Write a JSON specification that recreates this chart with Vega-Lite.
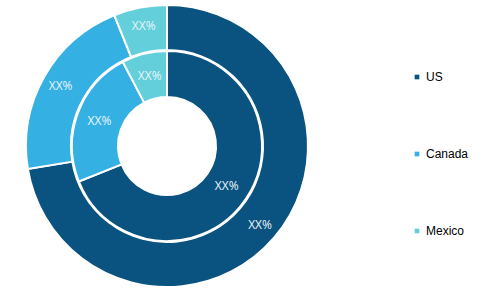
{
  "$schema": "https://vega.github.io/schema/vega-lite/v6.json",
  "width": 334,
  "height": 292,
  "autosize": {"type": "none"},
  "padding": {"left": 0, "top": 0, "right": 160, "bottom": 5},
  "background": "white",
  "config": {"view": {"stroke": null}},
  "data": {
    "values": [
      {"ring": "outer", "country": "US", "rank": 1, "share": 72.4, "label": "XX%"},
      {"ring": "outer", "country": "Canada", "rank": 2, "share": 21.5, "label": "XX%"},
      {"ring": "outer", "country": "Mexico", "rank": 3, "share": 6.1, "label": "XX%"},
      {"ring": "inner", "country": "US", "rank": 1, "share": 68.9, "label": "XX%"},
      {"ring": "inner", "country": "Canada", "rank": 2, "share": 23.4, "label": "XX%"},
      {"ring": "inner", "country": "Mexico", "rank": 3, "share": 7.7, "label": "XX%"}
    ]
  },
  "encoding": {
    "theta": {"field": "share", "type": "quantitative", "stack": true, "scale": {"domain": [0, 100]}},
    "order": {"field": "rank", "type": "quantitative"},
    "color": {
      "field": "country",
      "type": "nominal",
      "scale": {"domain": ["US", "Canada", "Mexico"], "range": ["#0a5380", "#35b0e2", "#62cfda"]},
      "legend": {
        "title": null,
        "orient": "none",
        "legendX": 411,
        "legendY": 71,
        "symbolType": "square",
        "symbolSize": 22,
        "symbolStrokeWidth": 0,
        "labelFont": "Liberation Sans",
        "labelFontSize": 12,
        "labelColor": "#000000",
        "labelOffset": 3,
        "rowPadding": 65
      }
    }
  },
  "layer": [
    {
      "transform": [{"filter": "datum.ring === 'outer'"}],
      "layer": [
        {"mark": {"type": "arc", "radius": 141, "radius2": 96, "stroke": "white", "strokeWidth": 2}},
        {"mark": {"type": "text", "radius": 122, "font": "Open Sans", "fontSize": 12}, "encoding": {"text": {"field": "label"}, "color": {"value": "#eaf4fa"}}}
      ]
    },
    {
      "transform": [{"filter": "datum.ring === 'inner'"}],
      "layer": [
        {"mark": {"type": "arc", "radius": 95, "radius2": 49, "stroke": "white", "strokeWidth": 2}},
        {"mark": {"type": "text", "radius": 72, "font": "Open Sans", "fontSize": 12}, "encoding": {"text": {"field": "label"}, "color": {"value": "#eaf4fa"}}}
      ]
    }
  ]
}
